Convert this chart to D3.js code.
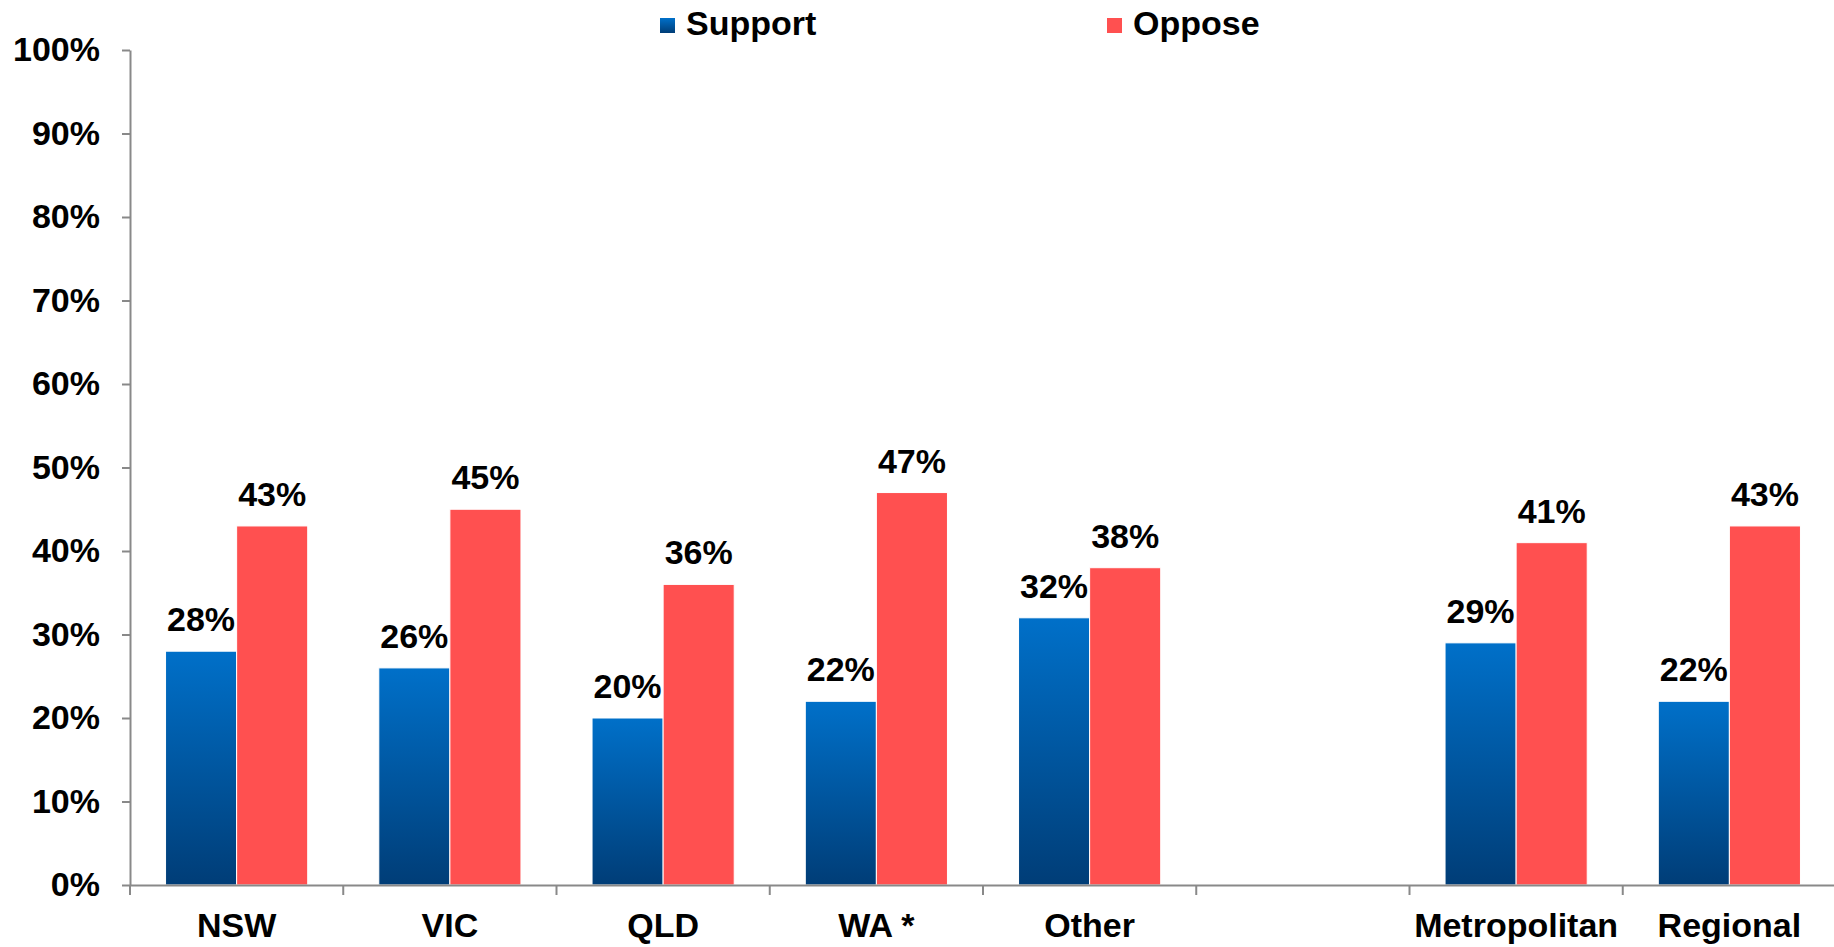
<!DOCTYPE html>
<html>
<head>
<meta charset="utf-8">
<script src="https://cdn.jsdelivr.net/npm/d3@7"></script>
<style>
  html, body { margin: 0; padding: 0; background: #fff; }
  svg { display: block; font-family: "Liberation Sans", Arial, sans-serif; font-weight: bold; }
</style>
</head>
<body>
<svg id="chart" width="1834" height="947"></svg>
<script>
// Survey results by state and by area
const categories = ["NSW", "VIC", "QLD", "WA *", "Other", "", "Metropolitan", "Regional"];
const support = [28, 26, 20, 22, 32, null, 29, 22];
const oppose = [43, 45, 36, 47, 38, null, 41, 43];
const seriesNames = ["Support", "Oppose"];
const yTicks = [0, 10, 20, 30, 40, 50, 60, 70, 80, 90, 100];

const svg = d3.select("#chart");
const axisColor = "#898989";
const fontSize = 34;

const x = d3.scaleBand().domain(categories).range([130, 1836]).paddingInner(0).paddingOuter(0);
const y = d3.scaleLinear().domain([0, 100]).range([885, 50]);

// vertical gradient for the support bars (light top, dark bottom)
const defs = svg.append("defs");
const grad = defs.append("linearGradient")
  .attr("id", "supportGrad").attr("x1", 0).attr("y1", 0).attr("x2", 0).attr("y2", 1);
grad.append("stop").attr("offset", "0%").attr("stop-color", "#0070C9");
grad.append("stop").attr("offset", "100%").attr("stop-color", "#003D77");

const barW = x.bandwidth() / 3;
const rows = categories.map((c, i) => ({ c, s: support[i], o: oppose[i] }));

// y axis
const yAxis = d3.axisLeft(y).tickValues(yTicks).tickFormat(d => d + "%")
  .tickSize(8).tickSizeOuter(0).tickPadding(22);
const gy = svg.append("g").attr("transform", "translate(130,0)").call(yAxis);
gy.select(".domain").attr("stroke", axisColor).attr("stroke-width", 2);
gy.selectAll(".tick line").attr("stroke", axisColor).attr("stroke-width", 2);
gy.selectAll(".tick text").attr("fill", "#000").attr("font-size", fontSize)
  .attr("font-family", "'Liberation Sans', Arial, sans-serif").attr("font-weight", "bold");

// bars
const groups = svg.append("g").selectAll("g").data(rows.filter(d => d.s != null)).join("g")
  .attr("transform", d => `translate(${x(d.c)},0)`);

groups.append("rect")
  .attr("x", barW / 2).attr("width", barW)
  .attr("y", d => y(d.s)).attr("height", d => y(0) - y(d.s))
  .attr("fill", "url(#supportGrad)").attr("stroke", "#fff").attr("stroke-width", 1);

groups.append("rect")
  .attr("x", barW * 1.5).attr("width", barW)
  .attr("y", d => y(d.o)).attr("height", d => y(0) - y(d.o))
  .attr("fill", "#FF5050").attr("stroke", "#fff").attr("stroke-width", 1);

// value labels
groups.append("text")
  .attr("x", barW).attr("y", d => y(d.s) - 20)
  .attr("text-anchor", "middle").attr("font-size", fontSize).attr("fill", "#000")
  .text(d => d.s + "%");
groups.append("text")
  .attr("x", barW * 2).attr("y", d => y(d.o) - 20)
  .attr("text-anchor", "middle").attr("font-size", fontSize).attr("fill", "#000")
  .text(d => d.o + "%");

// x axis: baseline, category labels, boundary ticks
const xAxis = d3.axisBottom(x).tickSize(0).tickSizeOuter(0).tickPadding(28);
const gx = svg.append("g").attr("transform", `translate(0,${y(0)})`).call(xAxis);
gx.select(".domain").attr("stroke", axisColor).attr("stroke-width", 2);
gx.selectAll(".tick text").attr("fill", "#000").attr("font-size", fontSize)
  .attr("font-family", "'Liberation Sans', Arial, sans-serif").attr("font-weight", "bold");

const bounds = categories.map(c => x(c));
gx.selectAll("line.bound").data(bounds).join("line").attr("class", "bound")
  .attr("x1", d => d).attr("x2", d => d).attr("y1", 0).attr("y2", 10)
  .attr("stroke", axisColor).attr("stroke-width", 2);

// legend
const legendX = [660, 1107];
const legend = svg.append("g").selectAll("g").data(seriesNames).join("g")
  .attr("transform", (d, i) => `translate(${legendX[i]},0)`);
legend.append("rect").attr("x", 0).attr("y", 18).attr("width", 15).attr("height", 15)
  .attr("fill", (d, i) => i === 0 ? "url(#supportGrad)" : "#FF5050");
legend.append("text").attr("x", 26).attr("y", 35).attr("font-size", fontSize).attr("fill", "#000")
  .text(d => d);
</script>
</body>
</html>
